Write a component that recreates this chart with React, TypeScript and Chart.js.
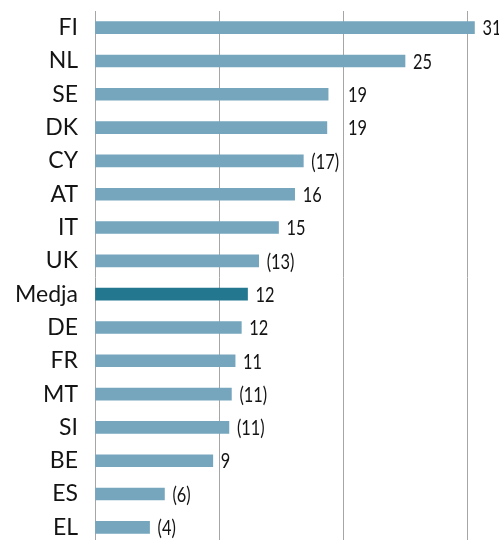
import React, { useEffect, useRef } from "react";
import { Chart, registerables } from "chart.js";

Chart.register(...registerables);

const categories = ["FI", "NL", "SE", "DK", "CY", "AT", "IT", "UK", "Medja", "DE", "FR", "MT", "SI", "BE", "ES", "EL"];
const values = [30.6, 25.0, 18.8, 18.7, 16.8, 16.1, 14.8, 13.2, 12.3, 11.8, 11.3, 11.0, 10.8, 9.5, 5.6, 4.4];
const valueLabels = ["31", "25", "19", "19", "(17)", "16", "15", "(13)", "12", "12", "11", "(11)", "(11)", "9", "(6)", "(4)"];
const highlight = "Medja";
const gridTicks = [0, 10, 20, 30];
const axisMax = 32.58;

const LIGHT = "#75a6be";
const DARK = "#23778f";
const TEXT = "#141414";
const FONT = "Lato, 'Open Sans', sans-serif";

const valueLabelPlugin = {
  id: "valueLabels",
  afterDatasetsDraw(chart: any) {
    const { ctx } = chart;
    const x = chart.scales.x;
    const meta = chart.getDatasetMeta(0);
    const grids = gridTicks.slice(1).map((v) => x.getPixelForValue(v));
    meta.data.forEach((bar: any, i: number) => {
      let tx = bar.x + 8;
      for (const g of grids) {
        if (tx > g - 16 && tx < g) tx = g + 5;
      }
      ctx.save();
      ctx.font = `21px ${FONT}`;
      ctx.fillStyle = TEXT;
      ctx.textBaseline = "middle";
      ctx.textAlign = "left";
      ctx.translate(tx, bar.y + 1);
      ctx.scale(0.78, 1);
      ctx.fillText(valueLabels[i], 0, 0);
      ctx.restore();
    });
  },
};

export default function App() {
  const canvasRef = useRef<HTMLCanvasElement | null>(null);

  useEffect(() => {
    if (!canvasRef.current) return;
    const chart = new Chart(canvasRef.current, {
      type: "bar",
      data: {
        labels: categories,
        datasets: [
          {
            data: values,
            backgroundColor: categories.map((c) => (c === highlight ? DARK : LIGHT)),
            borderWidth: 0,
            barThickness: 12,
          },
        ],
      },
      options: {
        indexAxis: "y",
        responsive: false,
        animation: false,
        layout: { padding: { top: 11, bottom: 4, left: 0, right: 0 } },
        plugins: { legend: { display: false }, tooltip: { enabled: false } },
        scales: {
          x: {
            min: 0,
            max: axisMax,
            afterBuildTicks: (scale: any) => {
              scale.ticks = gridTicks.map((v) => ({ value: v }));
            },
            afterFit: (scale: any) => {
              scale.height = 0;
              scale.paddingLeft = 0;
              scale.paddingRight = 0;
              scale.paddingTop = 0;
              scale.paddingBottom = 0;
            },
            ticks: { display: false },
            grid: { color: "#a6a6a6", lineWidth: 1, drawTicks: false },
            border: { display: false },
          },
          y: {
            afterFit: (scale: any) => {
              scale.width = 95;
              scale.paddingTop = 0;
              scale.paddingBottom = 0;
              scale.paddingLeft = 0;
              scale.paddingRight = 0;
            },
            ticks: {
              color: TEXT,
              padding: 17,
              font: { family: FONT, size: 23 },
            },
            grid: { display: false, drawTicks: false },
            border: { display: false },
          },
        },
      },
      plugins: [valueLabelPlugin],
    } as any);
    return () => chart.destroy();
  }, []);

  return (
    <div style={{ position: "absolute", left: 0, top: 0, width: 499, height: 548 }}>
      <canvas ref={canvasRef} width={499} height={548} style={{ width: 499, height: 548 }} />
    </div>
  );
}
